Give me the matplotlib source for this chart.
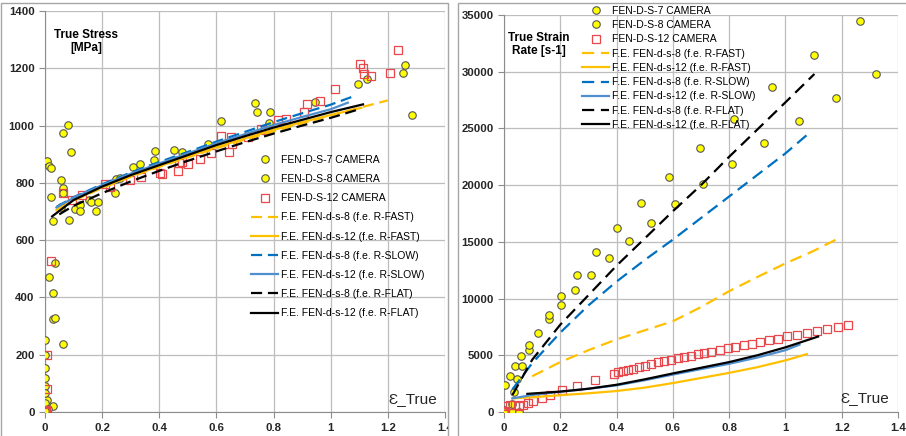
import matplotlib.pyplot as plt
from matplotlib.patches import Rectangle

plt.rcParams['font.family'] = ['Liberation Sans', 'DejaVu Sans']

# ---- left chart: true stress vs true strain ----
s7_x = [0.0, 0.0, 0.0, 0.0, 0.0, 0.006, 0.0, 0.027, 0.01, 0.015, 0.027, 0.035, 0.029,
        0.035, 0.064, 0.006, 0.015, 0.021, 0.021, 0.027, 0.056, 0.062, 0.064, 0.056]
s7_y = [250, 200, 153, 119, 90, 43, 31, 20, 10, 473, 414, 520, 326,
        328, 237, 878, 860, 853, 752, 667, 810, 781, 766, 717]
s8_x = [0.0, 0.0, 0.064, 0.079, 0.091, 0.085, 0.105, 0.122, 0.122, 0.155, 0.16, 0.177,
        0.184, 0.245, 0.25, 0.262, 0.308, 0.334, 0.383, 0.385, 0.452, 0.478, 0.569,
        0.617, 0.736, 0.742, 0.787, 0.785, 0.944, 1.095, 1.126, 1.252, 1.259, 1.286]
s8_y = [66, 5, 973, 1002, 909, 670, 708, 723, 700, 741, 734, 703,
        734, 764, 814, 816, 855, 865, 879, 912, 913, 908, 937,
        1017, 1080, 1048, 1047, 1008, 1084, 1145, 1164, 1185, 1210, 1037]
s12_x = [0.0, 0.002, 0.004, 0.007, 0.007, 0.02, 0.062, 0.093, 0.128, 0.209, 0.227, 0.297,
         0.337, 0.401, 0.41, 0.467, 0.468, 0.48, 0.5, 0.544, 0.58, 0.616, 0.645, 0.651,
         0.653, 0.709, 0.757, 0.77, 0.814, 0.844, 0.907, 0.916, 0.962, 1.014, 1.102,
         1.114, 1.116, 1.142, 1.209, 1.234]
s12_y = [0, 3, 6, 200, 80, 526, 764, 741, 758, 795, 787, 810,
         822, 834, 830, 842, 869, 874, 865, 884, 903, 964, 907, 959,
         936, 959, 988, 985, 1020, 1022, 1049, 1076, 1087, 1128, 1214,
         1202, 1180, 1173, 1185, 1264]

fast8_x = [0.05, 0.1, 0.2, 0.3, 0.4, 0.5, 0.6, 0.7, 0.8, 0.9, 1.0, 1.1, 1.2]
fast8_y = [710, 738, 782, 821, 856, 889, 921, 951, 980, 1008, 1036, 1062, 1088]
fast12_x = [0.04, 0.1, 0.2, 0.3, 0.4, 0.5, 0.6, 0.7, 0.8, 0.9, 1.0, 1.107]
fast12_y = [705, 740, 785, 824, 858, 892, 925, 955, 985, 1012, 1037, 1062]
slow8_x = [0.04, 0.1, 0.2, 0.3, 0.4, 0.5, 0.6, 0.7, 0.8, 0.9, 1.0, 1.09]
slow8_y = [716, 750, 795, 836, 873, 908, 944, 978, 1012, 1043, 1073, 1106]
slow12_x = [0.04, 0.1, 0.2, 0.3, 0.4, 0.5, 0.6, 0.7, 0.8, 0.9, 1.0, 1.06]
slow12_y = [714, 748, 792, 832, 868, 903, 938, 970, 1002, 1030, 1057, 1080]
flat8_x = [0.05, 0.1, 0.2, 0.3, 0.4, 0.5, 0.6, 0.7, 0.8, 0.9, 1.0, 1.096]
flat8_y = [690, 720, 764, 805, 842, 877, 910, 942, 972, 1000, 1027, 1056]
flat12_x = [0.025, 0.1, 0.2, 0.3, 0.4, 0.5, 0.6, 0.7, 0.8, 0.9, 1.0, 1.113]
flat12_y = [683, 740, 787, 827, 862, 897, 932, 963, 993, 1020, 1047, 1074]

# ---- right chart: true strain rate vs true strain ----
r7_x = [0.0, 0.0, 0.002, 0.005, 0.021, 0.028, 0.028, 0.036, 0.038, 0.047, 0.053, 0.062,
        0.064, 0.088, 0.088, 0.121, 0.159, 0.159, 0.204, 0.204]
r7_y = [0, 150, 60, 2350, 3150, 735, 0, 1765, 4030, 2910, 0, 4970,
        4090, 5440, 5940, 6970, 8240, 8560, 9470, 10260]
r8_x = [0.0, 0.253, 0.26, 0.308, 0.327, 0.373, 0.401, 0.444, 0.488, 0.524, 0.585, 0.609,
        0.695, 0.707, 0.809, 0.817, 0.924, 0.951, 1.047, 1.1, 1.18, 1.265, 1.323]
r8_y = [40, 10740, 12090, 12090, 14090, 13560, 16180, 15060, 18410, 16650, 20760, 18320,
        23260, 20060, 21850, 25850, 23740, 28620, 25680, 31470, 27710, 34470, 29790]
r12_x = [0.0, 0.002, 0.004, 0.021, 0.039, 0.055, 0.069, 0.087, 0.104, 0.134, 0.164, 0.205,
         0.261, 0.324, 0.39, 0.405, 0.422, 0.44, 0.458, 0.478, 0.5, 0.523, 0.547, 0.57,
         0.594, 0.618, 0.641, 0.663, 0.689, 0.712, 0.736, 0.766, 0.795, 0.822, 0.852,
         0.882, 0.911, 0.943, 0.973, 1.006, 1.041, 1.076, 1.111, 1.148, 1.186, 1.221]
r12_y = [0, 120, 530, 620, 620, 530, 620, 820, 970, 1235, 1500, 1940,
         2290, 2820, 3380, 3500, 3650, 3735, 3820, 3940, 4090, 4235, 4380, 4530,
         4620, 4735, 4850, 4970, 5090, 5200, 5320, 5470, 5620, 5735, 5880,
         6030, 6180, 6320, 6470, 6680, 6820, 6970, 7120, 7320, 7470, 7650]

rfast8_x = [0.1, 0.2, 0.3, 0.4, 0.5, 0.6, 0.7, 0.8, 0.9, 1.0, 1.1, 1.18]
rfast8_y = [3150, 4400, 5450, 6400, 7200, 8000, 9250, 10650, 11900, 13100, 14200, 15200]
rfast12_x = [0.03, 0.1, 0.2, 0.3, 0.4, 0.5, 0.6, 0.7, 0.8, 0.9, 1.0, 1.076]
rfast12_y = [1200, 1300, 1480, 1650, 1850, 2150, 2550, 3000, 3450, 3950, 4550, 5100]
rslow8_x = [0.03, 0.1, 0.2, 0.3, 0.4, 0.5, 0.6, 0.7, 0.8, 0.9, 1.0, 1.08]
rslow8_y = [2000, 4300, 7000, 9400, 11500, 13400, 15200, 17100, 19000, 20900, 22800, 24500]
rslow12_x = [0.03, 0.1, 0.2, 0.3, 0.4, 0.5, 0.6, 0.7, 0.8, 0.9, 1.0, 1.05]
rslow12_y = [1200, 1500, 1780, 2050, 2350, 2800, 3300, 3780, 4250, 4800, 5450, 5940]
rflat8_x = [0.03, 0.1, 0.2, 0.3, 0.4, 0.5, 0.6, 0.7, 0.8, 0.9, 1.0, 1.103]
rflat8_y = [1500, 4600, 7700, 10300, 12900, 15300, 17700, 20000, 22500, 24900, 27300, 29800]
rflat12_x = [0.083, 0.2, 0.3, 0.4, 0.5, 0.6, 0.7, 0.8, 0.9, 1.0, 1.116]
rflat12_y = [1600, 1800, 2050, 2400, 2880, 3400, 3900, 4400, 5000, 5700, 6650]

ORANGE = '#FFC000'
BLUE_D = '#0070C0'
BLUE_S = '#4F8FD0'
GRID = '#bdbdbd'
TXT = '#262626'

fig = plt.figure(figsize=(9.06, 4.36), dpi=100)
axL = fig.add_axes([45 / 906, 1 - 412 / 436, 400 / 906, 401 / 436])
axR = fig.add_axes([504 / 906, 1 - 412 / 436, 394 / 906, 397 / 436])


def draw(ax, pts, lines, dash):
    (x7, y7), (x8, y8), (x12, y12) = pts
    ax.plot(x7, y7, 'o', ls='none', ms=5.4, mfc='#FFFF00', mec='#555555', mew=0.8,
            label='FEN-D-S-7 CAMERA', zorder=3)
    ax.plot(x8, y8, 'o', ls='none', ms=5.4, mfc='#FFFF00', mec='#555555', mew=0.8,
            label='FEN-D-S-8 CAMERA', zorder=3)
    ax.plot(x12, y12, 's', ls='none', ms=5.2, mfc='none', mec='#E8474C', mew=0.9,
            label='FEN-D-S-12 CAMERA', zorder=3)
    styles = [(ORANGE, True, 'F.E. FEN-d-s-8 (f.e. R-FAST)'),
              (ORANGE, False, 'F.E. FEN-d-s-12 (f.e. R-FAST)'),
              (BLUE_D, True, 'F.E. FEN-d-s-8 (f.e. R-SLOW)'),
              (BLUE_S, False, 'F.E. FEN-d-s-12 (f.e. R-SLOW)'),
              ('black', True, 'F.E. FEN-d-s-8 (f.e. R-FLAT)'),
              ('black', False, 'F.E. FEN-d-s-12 (f.e. R-FLAT)')]
    for (lx, ly), (c, dashed, lab) in zip(lines, styles):
        ln, = ax.plot(lx, ly, color=c, lw=1.6, label=lab, zorder=4)
        if dashed:
            ln.set_dashes(dash)
    ax.grid(True, color=GRID, lw=0.9)
    ax.set_axisbelow(True)
    for s in ['top', 'right']:
        ax.spines[s].set_visible(False)
    for s in ['left', 'bottom']:
        ax.spines[s].set_color('#8c8c8c')
    ax.tick_params(axis='both', colors='#8c8c8c', labelcolor=TXT, labelsize=8.2,
                   length=4, width=0.8)
    ax.tick_params(axis='x', pad=4)


draw(axL, [(s7_x, s7_y), (s8_x, s8_y), (s12_x, s12_y)],
     [(fast8_x, fast8_y), (fast12_x, fast12_y), (slow8_x, slow8_y),
      (slow12_x, slow12_y), (flat8_x, flat8_y), (flat12_x, flat12_y)], (5, 2.6))
draw(axR, [(r7_x, r7_y), (r8_x, r8_y), (r12_x, r12_y)],
     [(rfast8_x, rfast8_y), (rfast12_x, rfast12_y), (rslow8_x, rslow8_y),
      (rslow12_x, rslow12_y), (rflat8_x, rflat8_y), (rflat12_x, rflat12_y)], (5.5, 3))

xt = [0, 0.2, 0.4, 0.6, 0.8, 1.0, 1.2, 1.4]
xtl = ['0', '0.2', '0.4', '0.6', '0.8', '1', '1.2', '1.4']
for ax in (axL, axR):
    ax.set_xlim(0, 1.4)
    ax.set_xticks(xt)
    ax.set_xticklabels(xtl, fontweight='bold')
axL.set_ylim(0, 1400)
axL.set_yticks(range(0, 1401, 200))
axL.set_yticklabels([str(v) for v in range(0, 1401, 200)], fontweight='bold')
axR.set_ylim(0, 35000)
axR.set_yticks(range(0, 35001, 5000))
axR.set_yticklabels([str(v) for v in range(0, 35001, 5000)], fontweight='bold')

axL.text(0.1025, 0.955, 'True Stress\n[MPa]', transform=axL.transAxes, ha='center',
         va='top', fontsize=8.5, fontweight='bold', color='black', linespacing=1.15)
axR.text(0.089, 0.957, 'True Strain\nRate [s-1]', transform=axR.transAxes, ha='center',
         va='top', fontsize=8.5, fontweight='bold', color='black', linespacing=1.15)
axL.text(0.98, 0.022, 'Ɛ_True', transform=axL.transAxes, ha='right', va='baseline',
         fontsize=11, color=TXT)
axR.text(0.978, 0.025, 'Ɛ_True', transform=axR.transAxes, ha='right', va='baseline',
         fontsize=11, color=TXT)

axL.legend(loc='upper left', bbox_to_anchor=(0.515, 0.641), frameon=False, fontsize=7.5,
           borderpad=0, borderaxespad=0, handlelength=2.6, handletextpad=0.3,
           labelspacing=0.88, numpoints=1)
axR.legend(loc='upper left', bbox_to_anchor=(0.198, 1.023), frameon=False, fontsize=7.5,
           borderpad=0, borderaxespad=0, handlelength=2.6, handletextpad=0.3,
           labelspacing=0.41, numpoints=1)

# chart frames and the gap between them
fig.add_artist(Rectangle((449 / 906, 0), 9 / 906, 1, transform=fig.transFigure,
                         facecolor='white', edgecolor='none', zorder=10))
fig.add_artist(Rectangle((0.5 / 906, -0.1), 447.5 / 906, 1.1 - 3 / 436,
                         transform=fig.transFigure, facecolor='none',
                         edgecolor='#a6a6a6', lw=1, zorder=11))
fig.add_artist(Rectangle((458 / 906, -0.1), 460 / 906, 1.1 - 3 / 436,
                         transform=fig.transFigure, facecolor='none',
                         edgecolor='#a6a6a6', lw=1, zorder=11))

fig.savefig('out.png', dpi=100)
